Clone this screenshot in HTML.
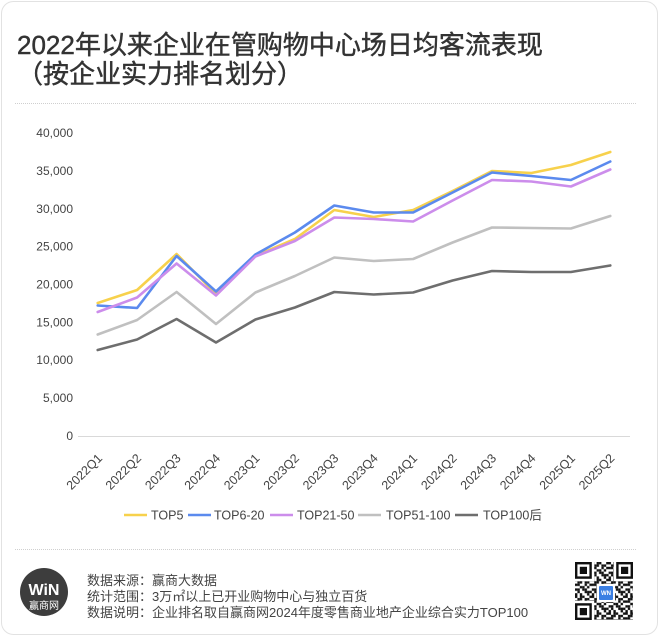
<!DOCTYPE html>
<html><head><meta charset="utf-8">
<style>
html,body{margin:0;padding:0;background:#fff;}
svg{display:block;}
.t{font-family:"Liberation Sans","Noto Sans CJK SC",sans-serif;}
</style></head>
<body>
<svg width="660" height="640" viewBox="0 0 660 640" xmlns="http://www.w3.org/2000/svg">
<defs>
<pattern id="qr" patternUnits="userSpaceOnUse" x="575" y="562" width="16.8" height="16.8">
<g fill="#111">
<rect x="0" y="0" width="2.4" height="2.4"/><rect x="4.8" y="0" width="2.4" height="2.4"/><rect x="7.2" y="0" width="2.4" height="2.4"/><rect x="14.4" y="0" width="2.4" height="2.4"/>
<rect x="2.4" y="2.4" width="2.4" height="2.4"/><rect x="4.8" y="2.4" width="2.4" height="2.4"/><rect x="9.6" y="2.4" width="2.4" height="2.4"/><rect x="12" y="2.4" width="2.4" height="2.4"/>
<rect x="0" y="4.8" width="2.4" height="2.4"/><rect x="2.4" y="4.8" width="2.4" height="2.4"/><rect x="9.6" y="4.8" width="2.4" height="2.4"/><rect x="14.4" y="4.8" width="2.4" height="2.4"/>
<rect x="4.8" y="7.2" width="2.4" height="2.4"/><rect x="7.2" y="7.2" width="2.4" height="2.4"/><rect x="12" y="7.2" width="2.4" height="2.4"/>
<rect x="0" y="9.6" width="2.4" height="2.4"/><rect x="2.4" y="9.6" width="2.4" height="2.4"/><rect x="7.2" y="9.6" width="2.4" height="2.4"/><rect x="9.6" y="9.6" width="2.4" height="2.4"/>
<rect x="2.4" y="12" width="2.4" height="2.4"/><rect x="9.6" y="12" width="2.4" height="2.4"/><rect x="12" y="12" width="2.4" height="2.4"/><rect x="14.4" y="12" width="2.4" height="2.4"/>
<rect x="0" y="14.4" width="2.4" height="2.4"/><rect x="4.8" y="14.4" width="2.4" height="2.4"/><rect x="12" y="14.4" width="2.4" height="2.4"/>
</g>
</pattern>
</defs>

<!-- card -->
<rect x="1.5" y="1.5" width="656" height="633" rx="12" ry="12" fill="#fff" stroke="#e2e2e2" stroke-width="1"/>

<!-- title -->
<g class="t" font-size="26" fill="#333" stroke="#333" stroke-width="0.45">
<text x="17" y="54">2022年以来企业在管购物中心场日均客流表现</text>
<text x="17" y="83">（按企业实力排名划分）</text>
</g>
<line x1="15" y1="103.5" x2="637" y2="103.5" stroke="#cfcfcf" stroke-width="1" stroke-dasharray="1 1"/>

<!-- y axis labels -->
<g class="t" font-size="12" fill="#444" text-anchor="end">
<text x="73" y="440">0</text>
<text x="73" y="402">5,000</text>
<text x="73" y="364">10,000</text>
<text x="73" y="326.5">15,000</text>
<text x="73" y="288.5">20,000</text>
<text x="73" y="250.5">25,000</text>
<text x="73" y="213">30,000</text>
<text x="73" y="175">35,000</text>
<text x="73" y="137">40,000</text>
</g>

<!-- axis -->
<line x1="78" y1="436.5" x2="630" y2="436.5" stroke="#d9d9d9" stroke-width="1"/>

<!-- x labels -->
<g class="t" font-size="12.5" fill="#444" text-anchor="end">
<text transform="translate(103,459) rotate(-45)">2022Q1</text>
<text transform="translate(142.1,459) rotate(-45)">2022Q2</text>
<text transform="translate(181.6,459) rotate(-45)">2022Q3</text>
<text transform="translate(221,459) rotate(-45)">2022Q4</text>
<text transform="translate(260.4,459) rotate(-45)">2023Q1</text>
<text transform="translate(299.9,459) rotate(-45)">2023Q2</text>
<text transform="translate(339.3,459) rotate(-45)">2023Q3</text>
<text transform="translate(378.7,459) rotate(-45)">2023Q4</text>
<text transform="translate(418.1,459) rotate(-45)">2024Q1</text>
<text transform="translate(457.6,459) rotate(-45)">2024Q2</text>
<text transform="translate(497,459) rotate(-45)">2024Q3</text>
<text transform="translate(536.4,459) rotate(-45)">2024Q4</text>
<text transform="translate(575.9,459) rotate(-45)">2025Q1</text>
<text transform="translate(615.3,459) rotate(-45)">2025Q2</text>
</g>

<!-- series -->
<g fill="none" stroke-width="2.6" stroke-linejoin="round" stroke-linecap="round">
<polyline stroke="#F7D14C" points="97.7,303 137.1,290 176.6,254 216,294 255.4,256 294.9,239 334.3,210 373.7,217 413.1,210 452.6,191 492,171 531.4,173 570.9,165 610.3,152"/>
<polyline stroke="#5B8AEE" points="97.7,305.5 137.1,308 176.6,256 216,291.5 255.4,254.5 294.9,232.5 334.3,205.5 373.7,212.5 413.1,212.5 452.6,192.5 492,172.5 531.4,176 570.9,180 610.3,161.5"/>
<polyline stroke="#CC8DEB" points="97.7,312 137.1,297.5 176.6,263.5 216,295.5 255.4,256.5 294.9,241 334.3,217.5 373.7,219 413.1,221.5 452.6,200.5 492,180 531.4,181.5 570.9,186.5 610.3,169.5"/>
<polyline stroke="#C0C0C0" points="97.7,334.5 137.1,320 176.6,292 216,324 255.4,292.5 294.9,276 334.3,257.5 373.7,261 413.1,259 452.6,242.5 492,227.5 531.4,228 570.9,228.5 610.3,216"/>
<polyline stroke="#6E6E6E" points="97.7,350 137.1,339.5 176.6,319 216,342.5 255.4,319.5 294.9,307.5 334.3,292 373.7,294.5 413.1,292.5 452.6,280.5 492,271 531.4,272 570.9,272 610.3,265.5"/>
</g>

<!-- legend -->
<g stroke-width="2.6">
<line x1="124" y1="515" x2="147" y2="515" stroke="#F7D14C"/>
<line x1="188" y1="515" x2="211" y2="515" stroke="#5B8AEE"/>
<line x1="270" y1="515" x2="293" y2="515" stroke="#CC8DEB"/>
<line x1="358" y1="515" x2="381" y2="515" stroke="#C0C0C0"/>
<line x1="455" y1="515" x2="478" y2="515" stroke="#6E6E6E"/>
</g>
<g class="t" font-size="12.5" fill="#444">
<text x="151" y="519.5">TOP5</text>
<text x="214" y="519.5">TOP6-20</text>
<text x="297" y="519.5">TOP21-50</text>
<text x="386" y="519.5">TOP51-100</text>
<text x="483" y="519.5">TOP100后</text>
</g>

<!-- footer -->
<line x1="15" y1="549.5" x2="637" y2="549.5" stroke="#cfcfcf" stroke-width="1" stroke-dasharray="1 1"/>
<circle cx="44" cy="592" r="24" fill="#3d3d3d"/>
<text class="t" x="44" y="595" font-size="16" font-weight="bold" fill="#fff" text-anchor="middle">WiN</text>
<text class="t" x="44" y="609" font-size="10" fill="#fff" text-anchor="middle">赢商网</text>

<g class="t" font-size="13" fill="#444">
<text x="87" y="585">数据来源：赢商大数据</text>
<text x="87" y="601">统计范围：3万㎡以上已开业购物中心与独立百货</text>
<text x="87" y="617">数据说明：企业排名取自赢商网2024年度零售商业地产企业综合实力TOP100</text>
</g>

<!-- QR -->
<rect x="575" y="562" width="58" height="58" fill="url(#qr)"/>
<g>
<rect x="575" y="562" width="19.2" height="19.2" fill="#fff"/>
<rect x="575" y="562" width="16.8" height="16.8" fill="#111"/>
<rect x="577.4" y="564.4" width="12" height="12" fill="#fff"/>
<rect x="579.8" y="566.8" width="7.2" height="7.2" fill="#111"/>

<rect x="613.8" y="562" width="19.2" height="19.2" fill="#fff"/>
<rect x="616.2" y="562" width="16.8" height="16.8" fill="#111"/>
<rect x="618.6" y="564.4" width="12" height="12" fill="#fff"/>
<rect x="621" y="566.8" width="7.2" height="7.2" fill="#111"/>

<rect x="575" y="600.8" width="19.2" height="19.2" fill="#fff"/>
<rect x="575" y="603.2" width="16.8" height="16.8" fill="#111"/>
<rect x="577.4" y="605.6" width="12" height="12" fill="#fff"/>
<rect x="579.8" y="608" width="7.2" height="7.2" fill="#111"/>

<rect x="597" y="584" width="18" height="18" fill="#fff"/>
<rect x="599" y="586" width="14" height="14" fill="#3B7FE3" rx="1"/>
<text class="t" x="606" y="595" font-size="6" font-weight="bold" fill="#fff" text-anchor="middle">WN</text>
</g>
</svg>
</body></html>
